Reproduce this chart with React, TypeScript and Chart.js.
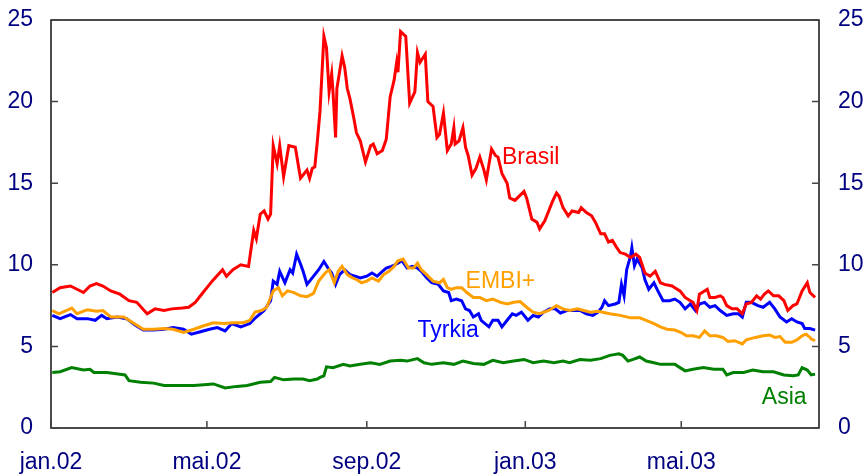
import React, { useEffect, useRef } from "react";
import { Chart, registerables } from "chart.js";

Chart.register(...registerables);

// x values are days since 1 Jan 2002
const xTickDays = [0, 120, 243, 365, 485];
const xTickLabels = ["jan.02", "mai.02", "sep.02", "jan.03", "mai.03"];
const yTicks = [0, 5, 10, 15, 20, 25];

const brasil: [number, number][] = [
  [1, 8.3], [7, 8.6], [15, 8.7], [20, 8.5], [25, 8.3], [30, 8.7], [35, 8.85], [40, 8.7], [46, 8.4], [53, 8.2],
  [60, 7.8], [66, 7.7], [74, 7.0], [80, 7.3], [87, 7.2], [93, 7.3], [101, 7.35], [106, 7.4], [111, 7.7], [117, 8.3],
  [124, 9.0], [132, 9.7], [135, 9.3], [140, 9.7], [146, 10.0], [152, 9.9], [156, 12.1], [158, 11.6], [161, 13.1], [164, 13.3],
  [167, 12.8], [169, 13.1], [171, 17.3], [174, 16.2], [176, 17.3], [179, 15.4], [183, 17.3], [188, 17.2], [192, 15.3], [197, 15.8],
  [199, 15.3], [201, 15.9], [203, 16.0], [205, 17.6], [207, 19.4], [210, 24.0], [212, 23.3], [214, 20.6], [216, 21.7], [217, 20.6],
  [219, 17.8], [220, 20.8], [224, 22.8], [226, 22.1], [228, 20.8], [230, 20.2], [233, 19.0], [235, 18.1], [238, 17.6], [242, 16.3],
  [246, 17.3], [248, 17.4], [251, 16.8], [255, 17.0], [258, 17.7], [261, 20.3], [264, 21.3], [266, 22.4], [267, 21.8], [269, 24.3],
  [273, 24.0], [276, 19.9], [280, 20.6], [282, 23.0], [284, 22.4], [288, 22.9], [290, 20.0], [294, 19.7], [297, 17.8], [299, 18.0],
  [302, 19.3], [305, 17.0], [308, 17.4], [310, 18.4], [311, 17.4], [314, 17.6], [317, 18.4], [319, 17.2], [321, 16.7], [324, 15.5],
  [327, 15.9], [330, 16.6], [333, 15.85], [335, 15.2], [339, 17.1], [342, 16.7], [344, 16.6], [347, 15.6], [351, 15.0], [353, 14.1],
  [357, 13.95], [364, 14.5], [366, 14.1], [370, 12.8], [374, 12.6], [376, 12.2], [380, 12.7], [386, 13.9], [389, 14.4], [391, 14.2],
  [394, 13.5], [398, 13.0], [401, 13.3], [406, 13.2], [408, 13.5], [412, 13.2], [416, 13.0], [419, 12.6], [423, 11.9], [426, 11.9],
  [429, 11.4], [432, 11.5], [435, 11.1], [438, 10.75], [442, 10.65], [446, 10.45], [450, 10.65], [453, 10.45], [457, 9.5], [461, 9.3],
  [465, 9.6], [469, 8.9], [472, 8.8], [478, 8.7], [480, 8.6], [484, 8.4], [488, 8.0], [492, 7.8], [494, 7.7], [497, 7.2],
  [499, 8.2], [505, 8.5], [507, 8.0], [511, 8.0], [515, 8.1], [517, 8.0], [520, 7.5], [524, 7.3], [528, 7.3], [532, 7.0],
  [535, 7.6], [539, 7.7], [543, 8.1], [546, 7.9], [549, 8.2], [552, 8.4], [556, 8.1], [560, 8.1], [564, 7.8], [567, 7.2],
  [571, 7.5], [574, 7.6], [578, 8.4], [582, 8.9], [584, 8.3], [588, 8.0],
];

const embi: [number, number][] = [
  [1, 7.2], [6, 7.0], [12, 7.2], [16, 7.35], [20, 7.0], [28, 7.25], [35, 7.15], [40, 7.2], [46, 6.8], [56, 6.8],
  [64, 6.4], [71, 6.05], [79, 6.05], [87, 6.1], [94, 6.05], [102, 5.85], [110, 6.05], [117, 6.25], [125, 6.45], [133, 6.4],
  [140, 6.45], [148, 6.45], [153, 6.6], [157, 7.1], [162, 7.2], [166, 7.4], [171, 8.4], [175, 8.6], [178, 8.1], [182, 8.4],
  [187, 8.3], [192, 8.1], [197, 8.05], [202, 8.25], [206, 9.0], [211, 9.5], [214, 9.7], [218, 8.9], [221, 9.6], [224, 9.9],
  [228, 9.4], [232, 9.2], [235, 9.1], [239, 8.9], [243, 9.0], [247, 9.2], [252, 9.0], [256, 9.4], [260, 9.6], [264, 9.9],
  [267, 10.25], [271, 10.35], [275, 9.8], [279, 9.8], [282, 10.1], [285, 9.7], [289, 9.4], [294, 9.0], [299, 8.9], [302, 9.1],
  [305, 8.6], [308, 8.5], [312, 8.6], [316, 8.6], [320, 8.3], [325, 8.0], [330, 8.0], [335, 7.8], [340, 7.9], [346, 7.7],
  [351, 7.6], [356, 7.7], [361, 7.75], [366, 7.4], [371, 7.1], [376, 7.0], [383, 7.2], [389, 7.5], [394, 7.3], [399, 7.2],
  [405, 7.3], [410, 7.2], [415, 7.1], [421, 7.15], [430, 7.0], [438, 6.9], [446, 6.75], [453, 6.75], [458, 6.6], [464, 6.4],
  [469, 6.2], [474, 6.05], [480, 6.0], [485, 5.85], [489, 5.65], [494, 5.65], [499, 5.55], [503, 5.95], [507, 5.65], [512, 5.65],
  [517, 5.55], [521, 5.3], [526, 5.35], [532, 5.15], [535, 5.4], [542, 5.55], [548, 5.65], [553, 5.7], [557, 5.55], [561, 5.6],
  [565, 5.25], [570, 5.25], [574, 5.4], [578, 5.65], [581, 5.75], [584, 5.55], [585, 5.45], [588, 5.35],
];

const tyrkia: [number, number][] = [
  [1, 6.9], [7, 6.7], [15, 6.95], [20, 6.7], [28, 6.7], [34, 6.6], [39, 6.9], [43, 6.7], [51, 6.8], [58, 6.7],
  [65, 6.3], [71, 6.0], [79, 6.0], [87, 6.05], [94, 6.15], [102, 6.05], [108, 5.75], [115, 5.9], [122, 6.05], [128, 6.15],
  [134, 5.95], [139, 6.4], [146, 6.2], [153, 6.4], [158, 6.8], [164, 7.2], [169, 7.8], [171, 9.0], [174, 8.8], [176, 9.6],
  [180, 8.9], [184, 9.7], [186, 9.5], [189, 10.65], [192, 10.05], [194, 9.6], [197, 8.8], [201, 9.2], [206, 9.7], [210, 10.2],
  [214, 9.7], [216, 9.5], [219, 8.8], [222, 9.4], [226, 9.7], [230, 9.4], [234, 9.3], [238, 9.2], [243, 9.3], [247, 9.5],
  [251, 9.3], [255, 9.6], [258, 9.8], [262, 9.9], [266, 10.05], [270, 10.25], [274, 9.8], [278, 9.9], [282, 9.8], [285, 9.6],
  [289, 9.2], [293, 8.9], [298, 8.8], [302, 8.4], [306, 8.3], [308, 7.8], [312, 7.9], [316, 7.8], [319, 7.3], [322, 7.2],
  [325, 6.8], [329, 7.0], [331, 6.6], [334, 6.4], [337, 6.2], [340, 6.6], [344, 6.6], [347, 6.2], [351, 6.6], [355, 7.0],
  [358, 6.9], [362, 7.1], [367, 6.6], [371, 6.9], [375, 6.8], [379, 7.1], [384, 7.3], [388, 7.3], [392, 7.05], [397, 7.2],
  [402, 7.2], [407, 7.2], [412, 7.0], [417, 6.9], [421, 7.1], [424, 7.4], [426, 7.8], [429, 7.5], [434, 7.6], [437, 7.7],
  [439, 8.8], [441, 8.1], [443, 9.7], [446, 10.55], [447, 11.05], [449, 9.95], [451, 10.35], [455, 9.8], [457, 9.1], [460, 8.5],
  [464, 8.9], [467, 8.4], [471, 7.8], [476, 7.8], [480, 7.9], [484, 7.7], [488, 7.3], [492, 7.6], [496, 7.2], [499, 7.6],
  [503, 7.7], [507, 7.4], [511, 7.5], [515, 7.2], [520, 6.9], [525, 7.0], [529, 7.0], [532, 6.8], [535, 7.7], [539, 7.7],
  [544, 7.5], [548, 7.4], [553, 7.7], [557, 7.3], [561, 6.8], [566, 6.5], [570, 6.7], [574, 6.5], [578, 6.4], [580, 6.1],
  [584, 6.1], [588, 6.0],
];

const asia: [number, number][] = [
  [1, 3.4], [7, 3.45], [16, 3.7], [25, 3.55], [30, 3.6], [33, 3.4], [43, 3.4], [53, 3.3], [57, 3.25], [60, 2.9],
  [69, 2.8], [79, 2.75], [87, 2.6], [94, 2.6], [110, 2.6], [125, 2.7], [134, 2.45], [143, 2.55], [151, 2.6], [161, 2.8],
  [169, 2.85], [172, 3.1], [179, 2.95], [187, 3.0], [194, 3.0], [199, 2.9], [205, 3.0], [207, 3.1], [210, 3.2], [212, 3.75],
  [217, 3.7], [225, 3.9], [230, 3.8], [238, 3.9], [246, 4.0], [253, 3.9], [261, 4.1], [269, 4.15], [274, 4.1], [282, 4.25],
  [287, 4.0], [293, 3.9], [302, 4.0], [310, 3.9], [317, 4.1], [325, 3.95], [333, 3.9], [340, 4.15], [348, 4.0], [356, 4.1],
  [364, 4.2], [371, 4.0], [379, 4.1], [387, 4.0], [394, 4.1], [399, 4.0], [407, 4.2], [415, 4.15], [423, 4.25], [430, 4.45],
  [437, 4.55], [440, 4.45], [444, 4.1], [448, 4.2], [453, 4.35], [458, 4.1], [464, 4.0], [469, 3.9], [474, 3.9], [480, 3.9],
  [484, 3.7], [488, 3.5], [494, 3.6], [502, 3.7], [510, 3.6], [517, 3.6], [520, 3.25], [525, 3.4], [533, 3.4], [540, 3.55],
  [548, 3.45], [556, 3.45], [564, 3.25], [571, 3.2], [575, 3.25], [578, 3.7], [582, 3.55], [585, 3.25], [588, 3.3],
];

const seriesNames = ["Brasil", "EMBI+", "Tyrkia", "Asia"];
const seriesData = [brasil, embi, tyrkia, asia];
const seriesColors = ["#ff0000", "#ffa000", "#0000ff", "#008000"];
// label anchors: [day, value at text baseline]
const labelAnchors: [number, number][] = [
  [347, 16.2],
  [319, 8.6],
  [282, 5.6],
  [547, 1.5],
];

const FONT = '"Liberation Sans", Arial, sans-serif';
const NAVY = "#000080";

const framePlugin = {
  id: "frame",
  afterDatasetsDraw(chart: any) {
    const { ctx, chartArea: a, scales } = chart;
    ctx.save();
    ctx.strokeStyle = "#111";
    ctx.lineWidth = 1.5;
    ctx.strokeRect(a.left, a.top, a.right - a.left, a.bottom - a.top);
    ctx.beginPath();
    const tl = 7;
    yTicks.forEach((v) => {
      const y = scales.y.getPixelForValue(v);
      ctx.moveTo(a.left, y);
      ctx.lineTo(a.left + tl, y);
      ctx.moveTo(a.right, y);
      ctx.lineTo(a.right - tl, y);
    });
    xTickDays.forEach((d) => {
      const x = scales.x.getPixelForValue(d);
      ctx.moveTo(x, a.bottom);
      ctx.lineTo(x, a.bottom - tl);
    });
    ctx.strokeStyle = "#444";
    ctx.stroke();

    ctx.font = `23px ${FONT}`;
    ctx.textAlign = "left";
    ctx.textBaseline = "alphabetic";
    seriesNames.forEach((name, i) => {
      const [d, v] = labelAnchors[i];
      ctx.fillStyle = seriesColors[i];
      ctx.fillText(name, scales.x.getPixelForValue(d), scales.y.getPixelForValue(v));
    });
    ctx.restore();
  },
};

const fitY = (w: number) => (s: any) => {
  s.width = w;
  s.paddingTop = 0;
  s.paddingBottom = 0;
};

export default function App() {
  const ref = useRef<HTMLCanvasElement>(null);
  useEffect(() => {
    if (!ref.current) return;
    const chart = new Chart(ref.current, {
      type: "line",
      data: {
        datasets: seriesNames.map((name, i) => ({
          label: name,
          data: seriesData[i].map(([x, y]) => ({ x, y })),
          borderColor: seriesColors[i],
          backgroundColor: seriesColors[i],
          borderWidth: 3,
          pointRadius: 0,
          tension: 0,
          yAxisID: "y",
        })),
      },
      options: {
        animation: false,
        responsive: false,
        devicePixelRatio: 1,
        events: [],
        layout: { padding: { top: 20, left: 0, right: 0, bottom: 0 } },
        plugins: { legend: { display: false }, tooltip: { enabled: false } },
        scales: {
          x: {
            type: "linear",
            min: 0,
            max: 591,
            grid: { display: false, drawTicks: false },
            border: { display: false },
            afterBuildTicks: (s: any) => {
              s.ticks = xTickDays.map((v) => ({ value: v }));
            },
            afterFit: (s: any) => {
              s.height = 47;
              s.paddingLeft = 0;
              s.paddingRight = 0;
            },
            ticks: {
              autoSkip: false,
              maxRotation: 0,
              padding: 21,
              color: NAVY,
              font: { family: FONT, size: 23 },
              callback: (_v: any, i: number) => xTickLabels[i],
            },
          },
          y: {
            position: "left",
            min: 0,
            max: 25,
            grid: { display: false, drawTicks: false },
            border: { display: false },
            afterBuildTicks: (s: any) => {
              s.ticks = yTicks.map((v) => ({ value: v }));
            },
            afterFit: fitY(51),
            ticks: { padding: 18, color: NAVY, font: { family: FONT, size: 23 } },
          },
          y2: {
            position: "right",
            min: 0,
            max: 25,
            grid: { display: false, drawTicks: false },
            border: { display: false },
            afterBuildTicks: (s: any) => {
              s.ticks = yTicks.map((v) => ({ value: v }));
            },
            afterFit: fitY(48),
            ticks: { padding: 19, color: NAVY, font: { family: FONT, size: 23 } },
          },
        },
      },
      plugins: [framePlugin],
    });
    return () => chart.destroy();
  }, []);
  return (
    <div style={{ position: "absolute", left: 0, top: 0, width: 867, height: 475 }}>
      <canvas ref={ref} width={867} height={475} style={{ display: "block" }} />
    </div>
  );
}
